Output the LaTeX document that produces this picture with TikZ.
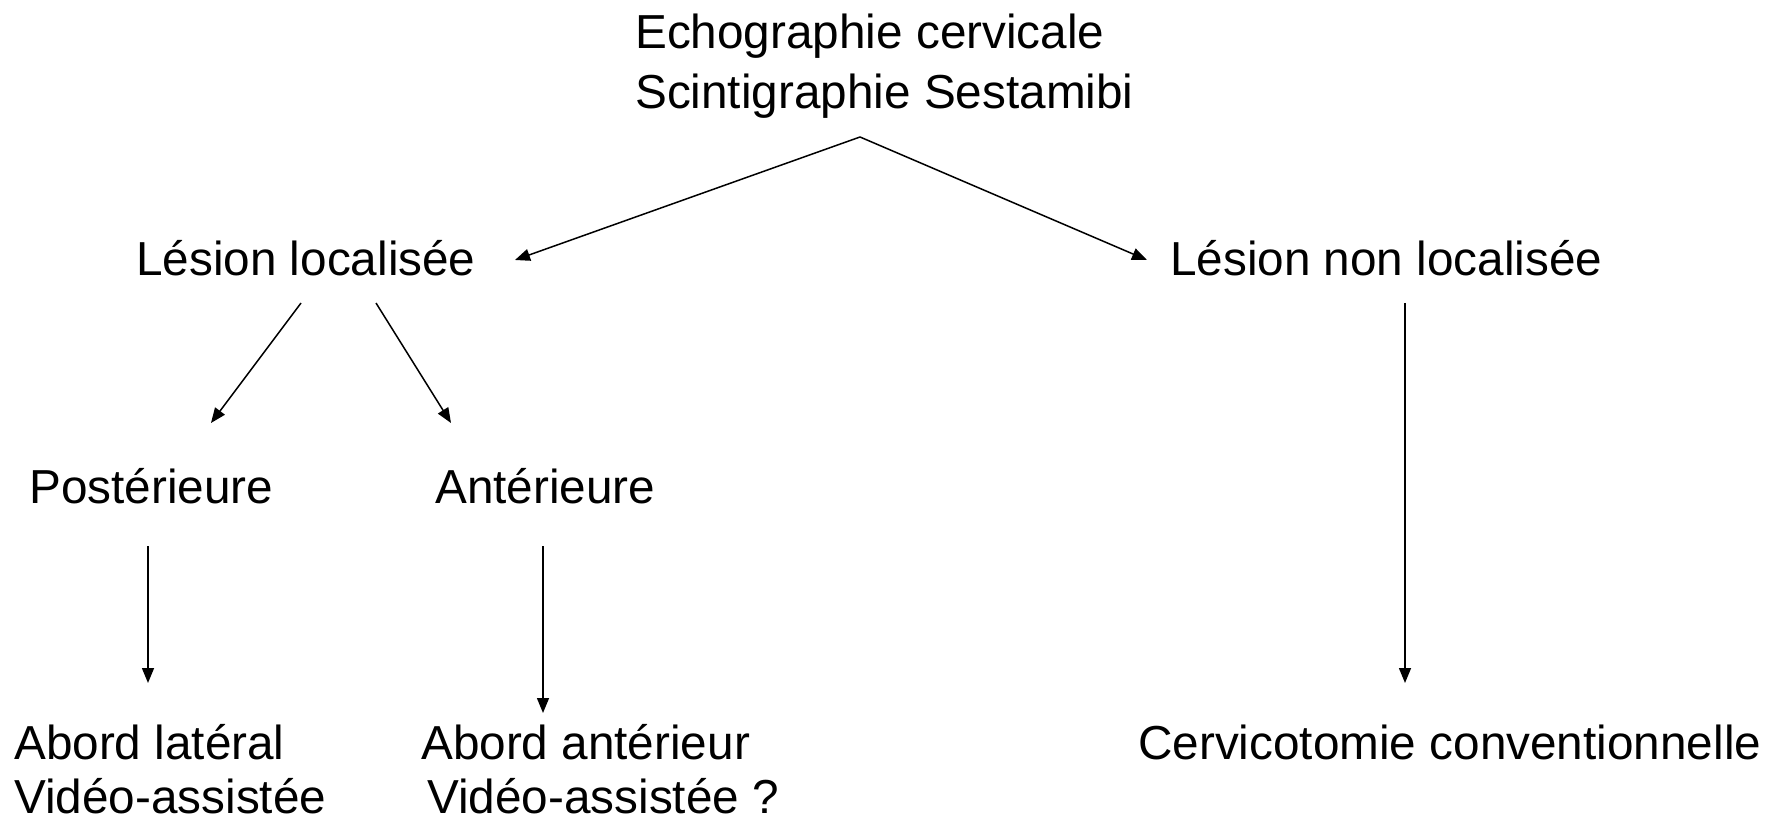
\documentclass[tikz,border=0pt]{standalone}
\usepackage{fontspec}
\setmainfont{Liberation Sans}
\usetikzlibrary{arrows.meta}
\begin{document}
\begin{tikzpicture}[x=1pt,y=-1pt,
  lbl/.style={anchor=base west,inner sep=0pt,font=\fontsize{47.7}{57}\selectfont},
  arr/.style={-{Triangle[length=15pt,width=12pt]},line width=1.5pt}]
\useasboundingbox (0,0) rectangle (1775,818);
% texts
\node[lbl] (echo)  at (635,49)  {Echographie cervicale};
\node[lbl] (scint) at (635,109) {Scintigraphie Sestamibi};
\node[lbl] (loc)   at (136,276) {Lésion localisée};
\node[lbl] (nonloc) at (1170,276) {Lésion non localisée};
\node[lbl] (post)  at (29,503)  {Postérieure};
\node[lbl] (ant)   at (435,503) {Antérieure};
\node[lbl] (lat1)  at (14,759)  {Abord latéral};
\node[lbl] (lat2)  at (14,813)  {Vidéo-assistée};
\node[lbl] (ant1)  at (421,759) {Abord antérieur};
\node[lbl] (ant2)  at (427,813) {Vidéo-assistée ?};
\node[lbl] (cerv)  at (1138,759) {Cervicotomie conventionnelle};
% connector end points
\coordinate (apex) at (860,137);
\coordinate (locIn) at (515,260);
\coordinate (nonlocIn) at (1147,260);
\coordinate (locOutL) at (301,303);
\coordinate (postIn) at (211,423);
\coordinate (locOutR) at (376,303);
\coordinate (antIn) at (451,423);
\coordinate (postOut) at (148,546);
\coordinate (latIn) at (148,683);
\coordinate (antOut) at (543,546);
\coordinate (ant1In) at (543,713);
\coordinate (nonlocOut) at (1405,303);
\coordinate (cervIn) at (1405,683);
% connectors
\draw[arr] (apex) -- (locIn);
\draw[arr] (apex) -- (nonlocIn);
\draw[arr] (locOutL) -- (postIn);
\draw[arr] (locOutR) -- (antIn);
\draw[arr] (postOut) -- (latIn);
\draw[arr] (antOut) -- (ant1In);
\draw[arr] (nonlocOut) -- (cervIn);
\end{tikzpicture}
\end{document}
